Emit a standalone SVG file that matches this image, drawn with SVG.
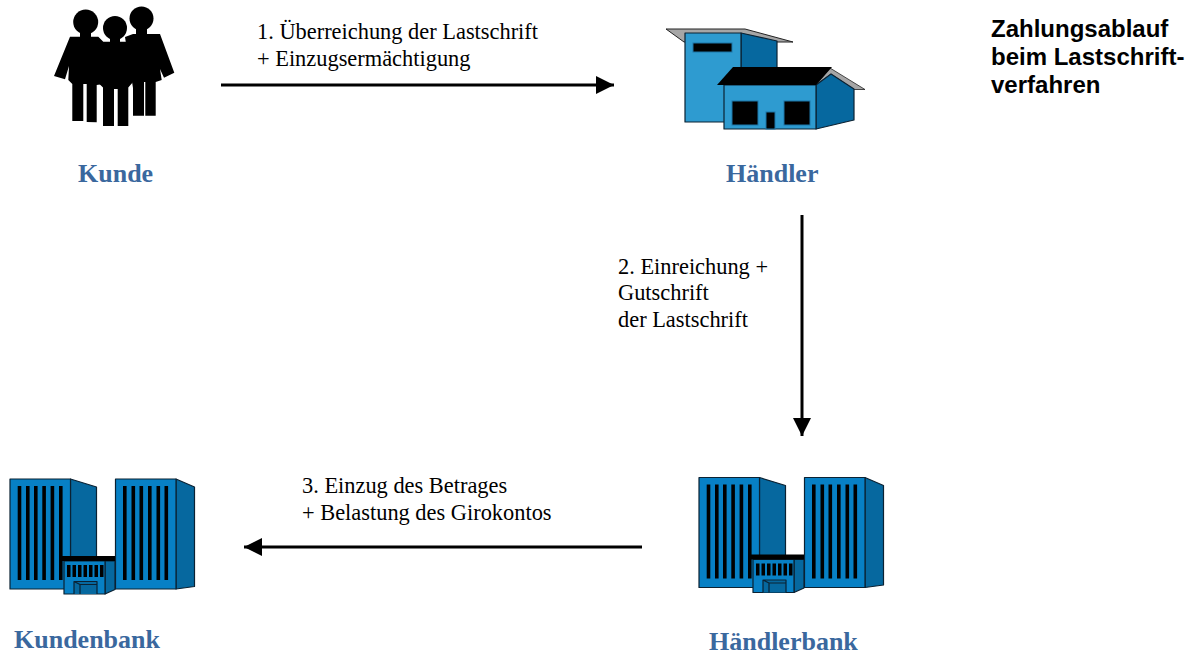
<svg xmlns="http://www.w3.org/2000/svg" width="1199" height="653" viewBox="0 0 1199 653">
<style>
.lbl{font-family:"Liberation Serif","Times New Roman",serif;font-size:22.400px;fill:#000}
.name{font-family:"Liberation Serif","Times New Roman",serif;font-size:26px;font-weight:bold;fill:#3a689e}
.title{font-family:"Liberation Sans",Arial,sans-serif;font-size:24px;font-weight:bold;fill:#000}
.conn{stroke:#000;stroke-width:3;fill:none;marker-end:url(#arr)}
.ol{stroke:#0b2233;stroke-width:1.200;stroke-linejoin:round}
</style>
<defs>
<marker id="arr" markerUnits="userSpaceOnUse" markerWidth="20" markerHeight="20" refX="18" refY="9" orient="auto"><path d="M0 0L18 9L0 18Z" fill="#000"/></marker>
<g id="bank">
<path class="ol" d="M70.500 479L96.500 487V583L70.500 589Z" fill="#06689f"/>
<rect class="ol" x="10" y="479" width="60.500" height="110" fill="#0780c5"/>
<path d="M17.700 486h3.600v94h-3.600ZM26 486h3.600v94H26ZM34 486h3.600v94H34ZM42.300 486h3.600v94h-3.600ZM50.600 486h3.600v94h-3.600ZM59 486h3.600v94H59Z" fill="#000"/>
<path class="ol" d="M176 479L194.500 487V586.500L176 589Z" fill="#06689f"/>
<rect class="ol" x="115.500" y="479" width="60.500" height="110" fill="#0780c5"/>
<path d="M123 486h3.600v94H123ZM131.500 486h3.600v94h-3.600ZM139.500 486h3.600v94h-3.600ZM148 486h3.600v94H148ZM156.500 486h3.600v94h-3.600ZM164.500 486h3.600v94h-3.600Z" fill="#000"/>
<path class="ol" d="M105 561H115V589.500L105 594Z" fill="#06689f"/>
<rect class="ol" x="64" y="561" width="41" height="33" fill="#0780c5"/>
<rect x="62" y="556" width="53" height="5" fill="#000"/>
<path d="M67 565h3.500v12H67ZM72.500 565h3.500v12h-3.500ZM78 565h3.500v12H78ZM83.500 565h3.500v12h-3.500ZM89 565h3.500v12H89ZM94.500 565h3.500v12h-3.500ZM100 565h3.500v12H100Z" fill="#000"/>
<path class="ol" d="M74 594V581.500H97V594M74 581.500L80 584.500V594M80 584.500H97" fill="#06689f"/>
</g>
</defs>
<g id="connectors">
<line class="conn" x1="221" y1="85" x2="614" y2="85"/>
<line class="conn" x1="802" y1="215" x2="802" y2="436"/>
<line class="conn" x1="642" y1="547" x2="244" y2="547"/>
</g>
<g id="kunde">
<g fill="#000">
<circle cx="141.500" cy="18.500" r="12"/>
<circle cx="85.700" cy="22" r="12.500"/>
<circle cx="115" cy="28" r="12"/>
<path d="M136 28h11v6h-11ZM80 32h11v6H80ZM110 36h10v8h-10Z"/>
<path d="M125 37L133 34H160L174.300 72.700L164 77.700L160 69L161.700 80L155.700 82V115.700H145.300V82H144V115.700H133V88Z"/>
<path d="M70 36.700H98.300L103.300 41.700H130V80L96.700 85V122.300L86.700 122V84H83.300V121H72.300V84L68.300 80L69 66L65 79.300L54 76Z"/>
<path d="M97.300 42H133V82L128.300 87.500V126H117.700V89H114V126H103V87.500L97.300 82Z"/>
</g>
<text class="name" x="78" y="182">Kunde</text>
</g>
<g id="haendler">
<path d="M666 29H745L793 42H684Z" fill="#a6a6a6" stroke="#222" stroke-width="1"/>
<path class="ol" d="M741 33L777 41V100H741Z" fill="#06689f"/>
<rect class="ol" x="685" y="33" width="56" height="89" fill="#2e9bd0"/>
<rect x="693" y="43" width="39" height="9" fill="#000" stroke="#1d76a8"/>
<path d="M830 68L865 89.500H854L831 74L816 85Z" fill="#a6a6a6" stroke="#222" stroke-width=".8"/>
<path class="ol" d="M816 85L831 74L854 89V120L816 129Z" fill="#06689f"/>
<rect class="ol" x="724" y="85" width="92" height="44" fill="#2e9bd0"/>
<path d="M717 85L733 67H832L816 85Z" fill="#000"/>
<rect x="732" y="101" width="26" height="24" fill="#000" stroke="#1d76a8"/>
<rect x="784" y="101" width="26" height="24" fill="#000" stroke="#1d76a8"/>
<rect x="766" y="112" width="9" height="17" fill="#000" stroke="#1d76a8"/>
<text class="name" x="726" y="182">Händler</text>
</g>
<g id="haendlerbank">
<use href="#bank" x="689" y="-1.500"/>
<text class="name" x="709" y="650">Händlerbank</text>
</g>
<g id="kundenbank">
<use href="#bank"/>
<text class="name" x="14" y="648">Kundenbank</text>
</g>
<g id="labels">
<text class="lbl" x="257" y="39">1. Überreichung der Lastschrift</text>
<text class="lbl" x="257" y="66">+ Einzugsermächtigung</text>
<text class="lbl" x="618" y="274">2. Einreichung +</text>
<text class="lbl" x="618" y="300">Gutschrift</text>
<text class="lbl" x="618" y="327">der Lastschrift</text>
<text class="lbl" x="302" y="493">3. Einzug des Betrages</text>
<text class="lbl" x="302" y="520">+ Belastung des Girokontos</text>
<text class="title" x="991" y="37">Zahlungsablauf</text>
<text class="title" x="991" y="65">beim Lastschrift-</text>
<text class="title" x="991" y="93">verfahren</text>
</g>
</svg>
